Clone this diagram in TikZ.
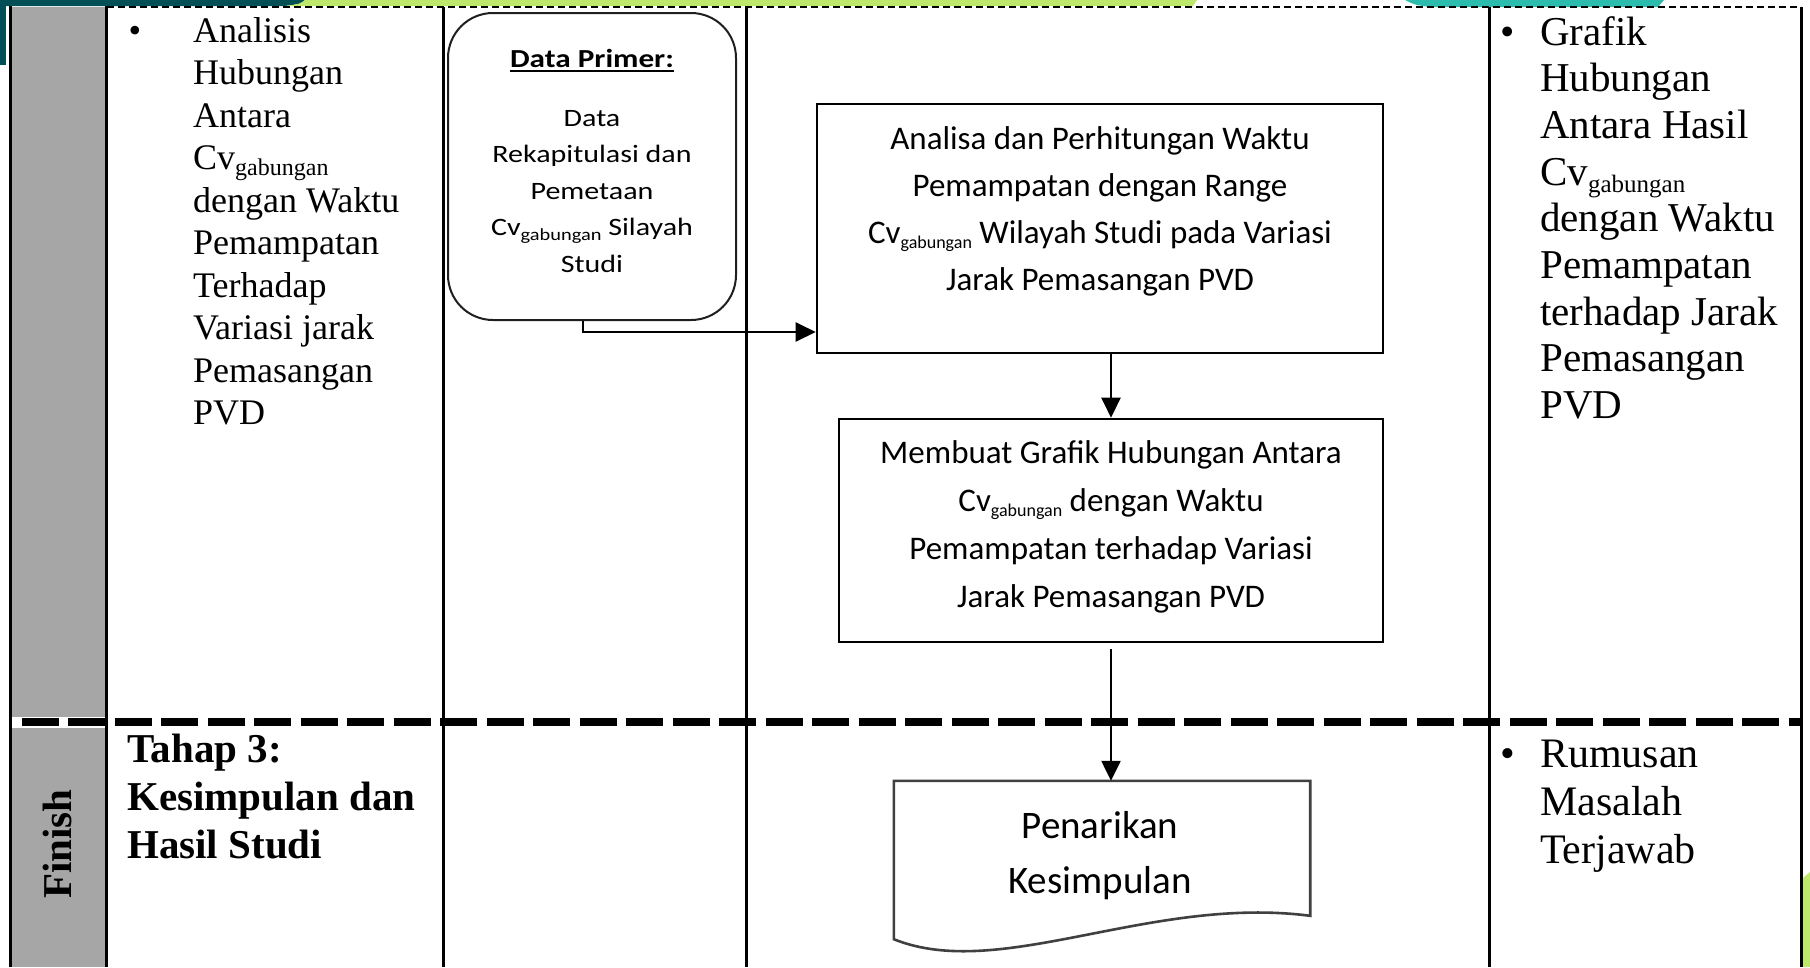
\documentclass[tikz,border=0pt]{standalone}
\usepackage{fontspec}
\setmainfont{Liberation Serif}
\newfontfamily\boxfont{Carlito}
\newfontfamily\smallbox[FakeStretch=1.2]{Carlito}
\usetikzlibrary{arrows.meta,calc}

\definecolor{lanegray}{HTML}{A6A6A6}
\definecolor{deepteal}{HTML}{024F56}
\definecolor{limegreen}{HTML}{BDE86B}
\definecolor{seateal}{HTML}{2BBCAE}
\definecolor{docgray}{HTML}{404040}

% stacked lines, first baseline is the node baseline
\newcommand{\rowsL}[1]{\begin{tabular}[t]{@{}l@{}}#1\end{tabular}}
\newcommand{\rowsC}[1]{\begin{tabular}[t]{@{}c@{}}#1\end{tabular}}
% lowered small "gabungan" index after Cv
\newcommand{\gab}[2]{\raisebox{-#2}{\fontsize{#1}{#1}\selectfont gabungan}}
% underlined heading
\newcommand{\ulText}[1]{\setbox0\hbox{#1}\rlap{\rule[-5pt]{\wd0}{2pt}}\box0}

\begin{document}
\begin{tikzpicture}[x=1pt,y=-1pt,
  lane/.style={line width=3pt},
  procbox/.style={draw=black, line width=2.6pt, fill=white, inner sep=0pt},
  roundbox/.style={draw=black!88, line width=2pt, rounded corners=45pt, fill=white, inner sep=0pt},
  docline/.style={draw=docgray, line width=2.6pt},
  flowarrow/.style={line width=2.4pt, -{Triangle[length=20pt,width=19pt]}},
  colleft/.style={anchor=base west, inner sep=0pt, font=\fontsize{36}{42.5}\selectfont},
  colright/.style={anchor=base west, inner sep=0pt, font=\fontsize{41}{46.7}\selectfont},
  boxtext/.style={anchor=base, inner sep=0pt, font=\boxfont\fontsize{33}{47}\selectfont},
  bulletmark/.style={anchor=base, inner sep=0pt}]

\useasboundingbox (0,0) rectangle (1810,967);
\fill[white] (0,0) rectangle (1810,967);

% slide ornaments along the edges
\fill[deepteal] (0,0) -- (305,0) .. controls (300,4) .. (285,6) -- (0,6) -- cycle;
\fill[deepteal] (0,0) rectangle (6,65);
\fill[limegreen] (305,0) -- (1197,0) -- (1193,6) -- (285,6) .. controls (300,4) .. (305,0) -- cycle;
\fill[seateal] (1405,0) -- (1664,0) -- (1658,7) -- (1430,7) .. controls (1415,5) .. (1405,0) -- cycle;
\fill[limegreen] (1803,878) -- (1810,872) -- (1810,967) -- (1803,967) -- cycle;

% grey stage column
\fill[lanegray] (12,7) rectangle (105,967);
\fill[white] (12,717) rectangle (105,728);

% table rules
\draw[line width=2pt, dash pattern=on 7pt off 4pt] (107,7) -- (1801,7);
\draw[line width=8pt, dash pattern=on 37pt off 9.5pt, dash phase=37pt] (12,722) -- (1801,722);
\draw[lane] (10.5,6) -- (10.5,967);
\draw[lane] (106.5,6) -- (106.5,967);
\draw[lane] (443,7) -- (443,967);
\draw[lane] (746,7) -- (746,967);
\draw[lane] (1489,7) -- (1489,967);
\draw[lane] (1801,7) -- (1801,967);

% stage label
\node[rotate=90, font=\bfseries\fontsize{41}{41}\selectfont] (finish) at (57,844) {Finish};

% activity column
\node[bulletmark, font=\fontsize{36}{36}\selectfont] (b1) at (135,42) {\textbullet};
\node[colleft] (act1) at (193,42) {\rowsL{Analisis\\Hubungan\\Antara\\Cv\gab{24}{6pt}\\dengan Waktu\\Pemampatan\\Terhadap\\Variasi jarak\\Pemasangan\\PVD}};
\node[anchor=base west, inner sep=0pt, font=\bfseries\fontsize{41}{48}\selectfont] (act2) at (127,762) {\rowsL{Tahap 3:\\Kesimpulan dan\\Hasil Studi}};

% output column
\node[bulletmark, font=\fontsize{41}{41}\selectfont] (b2) at (1508,45) {\textbullet};
\node[colright] (out1) at (1540,45) {\rowsL{Grafik\\Hubungan\\Antara Hasil\\Cv\gab{25}{7pt}\\dengan Waktu\\Pemampatan\\terhadap Jarak\\Pemasangan\\PVD}};
\node[bulletmark, font=\fontsize{42}{42}\selectfont] (b3) at (1508,767) {\textbullet};
\node[anchor=base west, inner sep=0pt, font=\fontsize{42}{48}\selectfont] (out2) at (1540,767) {\rowsL{Rumusan\\Masalah\\Terjawab}};

% primary data
\node[roundbox, minimum width=288pt, minimum height=307pt] (primer) at (592,166.5) {};
\node[anchor=base, inner sep=0pt, font=\smallbox\bfseries\fontsize{26}{26}\selectfont] (primerHead) at (592,67) {\ulText{Data Primer:}};
\node[anchor=base, inner sep=0pt, font=\smallbox\fontsize{25}{36.5}\selectfont] (primerBody) at (592,126) {\rowsC{Data\\Rekapitulasi dan\\Pemetaan\\Cv\gab{17}{5pt} Silayah\\Studi}};

% process steps
\node[procbox, minimum width=566pt, minimum height=249pt] (analisa) at (1100,228.5) {};
\node[boxtext] (analisaText) at (1100,149.5) {\rowsC{Analisa dan Perhitungan Waktu\\Pemampatan dengan Range\\Cv\gab{18}{5pt} Wilayah Studi pada Variasi\\Jarak Pemasangan PVD}};

\node[procbox, minimum width=544pt, minimum height=223pt] (grafik) at (1111,530.5) {};
\node[boxtext, font=\boxfont\fontsize{33}{48}\selectfont] (grafikText) at (1111,463.5) {\rowsC{Membuat Grafik Hubungan Antara\\Cv\gab{18}{5pt} dengan Waktu\\Pemampatan terhadap Variasi\\Jarak Pemasangan PVD}};

% conclusion (document symbol)
\node[inner sep=0pt, minimum width=416pt, minimum height=158pt] (kes) at (1102,860) {};
\draw[docline, fill=white] (kes.north west) -- (kes.north east) -- ($(kes.north east)+(0,135)$)
  .. controls (1150,895) and (1000,982) .. (kes.south west) -- cycle;
\node[anchor=base, inner sep=0pt, font=\boxfont\fontsize{39}{55}\selectfont] (kesText) at (1100,838) {\rowsC{Penarikan\\Kesimpulan}};

% connectors
\draw[flowarrow] ([xshift=-9pt]primer.south) |- ([yshift=-103.5pt]analisa.west);
\draw[flowarrow] (analisa.south -| grafik.north) -- (grafik.north);
\draw[flowarrow] ([yshift=-6pt]grafik.south) -- (grafik.south |- kes.north);
\end{tikzpicture}
\end{document}
